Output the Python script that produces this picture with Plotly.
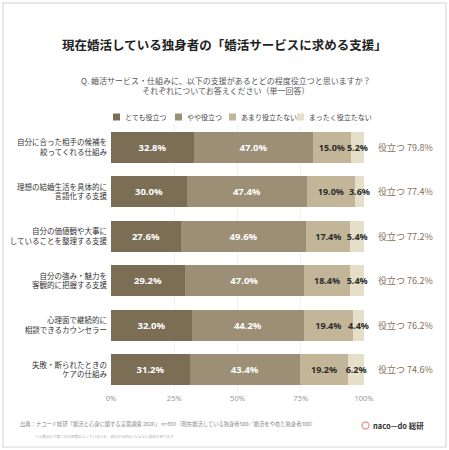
import plotly.graph_objects as go

W, H = 449, 450

categories = [
    "自分に合った相手の候補を<br>絞ってくれる仕組み",
    "理想の結婚生活を具体的に<br>言語化する支援",
    "自分の価値観や大事に<br>していることを整理する支援",
    "自分の強み・魅力を<br>客観的に把握する支援",
    "心理面で継続的に<br>相談できるカウンセラー",
    "失敗・断られたときの<br>ケアの仕組み",
]
series_names = ["とても役立つ", "やや役立つ", "あまり役立たない", "まったく役立たない"]
very_useful = [32.8, 30.0, 27.6, 29.2, 32.0, 31.2]
somewhat_useful = [47.0, 47.4, 49.6, 47.0, 44.2, 43.4]
not_very_useful = [15.0, 19.0, 17.4, 18.4, 19.4, 19.2]
not_at_all = [5.2, 3.6, 5.4, 5.4, 4.4, 6.2]
tick_vals = [0, 25, 50, 75, 100]
tick_text = ["0%", "25%", "50%", "75%", "100%"]

colors = ["#7b6e55", "#9d8f75", "#c3b698", "#e5dec8"]
text_colors = ["white", "white", "#2b2b2b", "#2b2b2b"]
text_sizes = [9.5, 9.5, 9, 9]
FONT = "Noto Sans CJK JP"
NUM_FONT = "Noto Sans"

# plot area in pixels
L, R, T, B = 111, 364, 125, 392

def px(x):
    return (x - L) / (R - L)

def py(y):
    return (B - y) / (B - T)

def label(x, y, text, size, color, xanchor="center", family=FONT, **kw):
    fig.add_annotation(x=px(x), y=py(y), xref="paper", yref="paper",
                       xanchor=xanchor, yanchor="middle", text=text,
                       showarrow=False, font=dict(size=size, color=color, family=family), **kw)

fig = go.Figure()
for name, vals, c, tc, ts in zip(series_names,
                                 [very_useful, somewhat_useful, not_very_useful, not_at_all],
                                 colors, text_colors, text_sizes):
    fig.add_trace(go.Bar(
        y=categories, x=vals, name=name, orientation="h",
        marker=dict(color=c, line=dict(width=0)),
        width=0.7,
        text=[f"{v:.1f}%" for v in vals],
        textposition="inside", insidetextanchor="middle",
        constraintext="none", textangle=0, cliponaxis=False,
        textfont=dict(color=tc, size=ts, family=NUM_FONT, weight="bold"),
        hoverinfo="skip", showlegend=False,
    ))

# hand-drawn legend row
legend_x = [113, 175, 229, 297]
for name, c, lx in zip(series_names, colors, legend_x):
    fig.add_shape(type="rect", xref="paper", yref="paper",
                  x0=px(lx), x1=px(lx + 7), y0=py(120.5), y1=py(113.5),
                  fillcolor=c, line=dict(width=0))
    label(lx + 10, 117, name, 7, "#444", xanchor="left")

# total useful annotation on the right
for cat, a, b in zip(categories, very_useful, somewhat_useful):
    fig.add_annotation(x=px(376), xref="paper", y=cat, yref="y",
                       text=f"役立つ {a + b:.1f}%", showarrow=False,
                       xanchor="left", yanchor="middle",
                       font=dict(size=9, color="#7f7058", family=FONT))

label(224, 45, "<b>現在婚活している独身者の「婚活サービスに求める支援」</b>", 12.5, "#222")
label(226, 85, "Q. 婚活サービス・仕組みに、以下の支援があるとどの程度役立つと思いますか？<br>それぞれについてお答えください（単一回答）",
      8, "#555", align="center")
label(18, 424, "出典：ナコード総研「婚活と心身に関する実態調査 2026」 n=800（現在婚活している独身者500／婚活をやめた独身者300）",
      5.3, "#888", xanchor="left")
label(33, 436, "※小数点以下第二位を四捨五入しているため、合計が100%にならない場合があります",
      3.6, "#aaa", xanchor="left")
label(371, 425, "<b>naco—do 総研</b>", 7.5, "#333", xanchor="left")
# logo ring
fig.add_shape(type="circle", xref="paper", yref="paper",
              x0=px(362), x1=px(369), y0=py(429), y1=py(422),
              line=dict(color="#e8a0a0", width=1.5))

# outer frame
fig.add_shape(type="rect", xref="paper", yref="paper",
              x0=px(3), x1=px(446), y0=py(447), y1=py(3),
              line=dict(color="#e2e2e2", width=1.5), layer="below")

fig.update_layout(
    width=W, height=H,
    margin=dict(l=L, r=W - R, t=T, b=H - B, autoexpand=False),
    paper_bgcolor="white", plot_bgcolor="white",
    barmode="stack", bargap=0.3,
    font=dict(family=FONT, color="#333"),
    showlegend=False,
    xaxis=dict(range=[0, 100], tickvals=tick_vals, ticktext=tick_text,
               showgrid=True, gridcolor="#f0f0f0", gridwidth=1, zeroline=False,
               tickfont=dict(size=7.5, color="#999", family=NUM_FONT),
               ticks="", automargin=False),
    yaxis=dict(autorange="reversed", showgrid=False, ticks="", automargin=False,
               tickfont=dict(size=7.5, color="#333"), ticklabelstandoff=3),
)

fig.write_html("out.html", config={"displayModeBar": False},
               post_script="document.body.style.margin='0';")
